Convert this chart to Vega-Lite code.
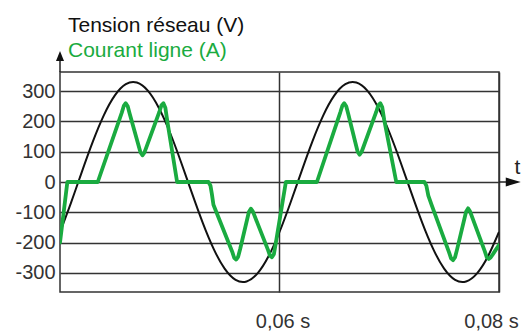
{
  "$schema": "https://vega.github.io/schema/vega-lite/v6.json",
  "width": 439,
  "height": 220,
  "autosize": {"type": "none"},
  "padding": {"left": 60, "top": 72, "right": 24, "bottom": 42},
  "background": "white",
  "config": {
    "font": "Liberation Sans",
    "view": {"stroke": "#333333", "strokeWidth": 1.5},
    "axis": {"labelOverlap": false}
  },
  "title": {
    "text": "Tension réseau (V)",
    "subtitle": "Courant ligne (A)",
    "anchor": "start",
    "frame": "group",
    "dx": 8,
    "offset": -10,
    "font": "Liberation Sans",
    "subtitleFont": "Liberation Sans",
    "fontSize": 21,
    "subtitleFontSize": 21,
    "fontWeight": "normal",
    "color": "#111111",
    "subtitleColor": "#1aab40",
    "subtitlePadding": 4
  },
  "datasets": {
    "tension": [
      {"t": 0.040, "v": -165}, {"t": 0.041, "v": -68.6}, {"t": 0.042, "v": 34.5}, {"t": 0.043, "v": 134.2},
      {"t": 0.044, "v": 220.8}, {"t": 0.045, "v": 285.8}, {"t": 0.046, "v": 322.8}, {"t": 0.047, "v": 328.2},
      {"t": 0.048, "v": 301.5}, {"t": 0.049, "v": 245.2}, {"t": 0.050, "v": 165}, {"t": 0.051, "v": 68.6},
      {"t": 0.052, "v": -34.5}, {"t": 0.053, "v": -134.2}, {"t": 0.054, "v": -220.8}, {"t": 0.055, "v": -285.8},
      {"t": 0.056, "v": -322.8}, {"t": 0.057, "v": -328.2}, {"t": 0.058, "v": -301.5}, {"t": 0.059, "v": -245.2},
      {"t": 0.060, "v": -165}, {"t": 0.061, "v": -68.6}, {"t": 0.062, "v": 34.5}, {"t": 0.063, "v": 134.2},
      {"t": 0.064, "v": 220.8}, {"t": 0.065, "v": 285.8}, {"t": 0.066, "v": 322.8}, {"t": 0.067, "v": 328.2},
      {"t": 0.068, "v": 301.5}, {"t": 0.069, "v": 245.2}, {"t": 0.070, "v": 165}, {"t": 0.071, "v": 68.6},
      {"t": 0.072, "v": -34.5}, {"t": 0.073, "v": -134.2}, {"t": 0.074, "v": -220.8}, {"t": 0.075, "v": -285.8},
      {"t": 0.076, "v": -322.8}, {"t": 0.077, "v": -328.2}, {"t": 0.078, "v": -301.5}, {"t": 0.079, "v": -245.2},
      {"t": 0.080, "v": -165}
    ],
    "courant": [
      {"t": 0.04000, "v": -200}, {"t": 0.04067, "v": 0}, {"t": 0.04344, "v": 0},
      {"t": 0.04563, "v": 229}, {"t": 0.04581, "v": 251}, {"t": 0.04599, "v": 260}, {"t": 0.04617, "v": 250}, {"t": 0.04635, "v": 225},
      {"t": 0.04733, "v": 98}, {"t": 0.04751, "v": 88}, {"t": 0.04769, "v": 97},
      {"t": 0.04906, "v": 232}, {"t": 0.04924, "v": 253}, {"t": 0.04942, "v": 260}, {"t": 0.04960, "v": 245}, {"t": 0.04978, "v": 200},
      {"t": 0.05067, "v": 0}, {"t": 0.05353, "v": 0}, {"t": 0.05371, "v": -12}, {"t": 0.05384, "v": -40}, {"t": 0.05398, "v": -75},
      {"t": 0.05569, "v": -230}, {"t": 0.05587, "v": -250}, {"t": 0.05605, "v": -256}, {"t": 0.05623, "v": -247}, {"t": 0.05641, "v": -222},
      {"t": 0.05721, "v": -99}, {"t": 0.05739, "v": -88}, {"t": 0.05757, "v": -97},
      {"t": 0.05895, "v": -224}, {"t": 0.05913, "v": -243}, {"t": 0.05931, "v": -248}, {"t": 0.05949, "v": -238}, {"t": 0.05967, "v": -200},
      {"t": 0.06058, "v": 0}, {"t": 0.06341, "v": 0},
      {"t": 0.06554, "v": 230}, {"t": 0.06572, "v": 251}, {"t": 0.06590, "v": 260}, {"t": 0.06608, "v": 250}, {"t": 0.06626, "v": 225},
      {"t": 0.06712, "v": 100}, {"t": 0.06730, "v": 90}, {"t": 0.06748, "v": 99},
      {"t": 0.06882, "v": 232}, {"t": 0.06900, "v": 253}, {"t": 0.06918, "v": 260}, {"t": 0.06936, "v": 247}, {"t": 0.06954, "v": 205},
      {"t": 0.07064, "v": 0}, {"t": 0.07320, "v": 0}, {"t": 0.07338, "v": -12}, {"t": 0.07356, "v": -45}, {"t": 0.07390, "v": -80},
      {"t": 0.07545, "v": -232}, {"t": 0.07563, "v": -252}, {"t": 0.07581, "v": -258}, {"t": 0.07599, "v": -249}, {"t": 0.07617, "v": -224},
      {"t": 0.07700, "v": -98}, {"t": 0.07718, "v": -87}, {"t": 0.07736, "v": -97},
      {"t": 0.07870, "v": -228}, {"t": 0.07888, "v": -248}, {"t": 0.07906, "v": -254}, {"t": 0.07924, "v": -249}, {"t": 0.07945, "v": -238},
      {"t": 0.07970, "v": -224}, {"t": 0.08000, "v": -208}
    ]
  },
  "layer": [
    {
      "data": {"name": "tension"},
      "mark": {"type": "line", "interpolate": "natural", "color": "#111111", "strokeWidth": 2, "clip": true},
      "encoding": {
        "x": {
          "field": "t", "type": "quantitative",
          "scale": {"domain": [0.04, 0.08], "nice": false, "zero": false},
          "axis": {
            "values": [0.06, 0.08], "tickCount": 10,
            "labelExpr": "replace(format(datum.value, '.2f'), '.', ',') + ' s'",
            "labelFontSize": 20, "labelColor": "#333333", "labelPadding": 19,
            "labelAlign": "center",
            "labelOffset": {"condition": {"test": "datum.value > 0.07", "value": -8}, "value": 3},
            "labelFlush": false, "labelOverlap": false, "labelBound": false,
            "ticks": false, "domain": false,
            "grid": true, "gridColor": "#333333", "gridWidth": 1.5, "gridOpacity": 1,
            "title": "t", "titleX": 457, "titleY": -125, "titleFontSize": 21,
            "titleFontWeight": "normal", "titleBaseline": "middle", "titleAlign": "center",
            "titleAngle": 0, "titleColor": "#222222"
          }
        },
        "y": {
          "field": "v", "type": "quantitative",
          "scale": {"domain": [-363, 363], "nice": false, "zero": false},
          "axis": {
            "values": [-300, -200, -100, 0, 100, 200, 300], "tickCount": 10,
            "labelExpr": "'' + datum.value",
            "labelFontSize": 20, "labelColor": "#333333", "labelPadding": 5,
            "labelOverlap": false, "labelBound": false, "labelFlush": false,
            "ticks": false, "domain": false,
            "grid": true, "gridColor": "#333333", "gridWidth": 1.5, "gridOpacity": 1,
            "title": null
          }
        }
      }
    },
    {
      "data": {"name": "courant"},
      "mark": {"type": "line", "color": "#1aab40", "strokeWidth": 3.8, "strokeJoin": "round", "strokeCap": "round", "clip": true},
      "encoding": {
        "x": {"field": "t", "type": "quantitative"},
        "y": {"field": "v", "type": "quantitative"}
      }
    },
    {
      "data": {"values": [{}]},
      "mark": {"type": "rule", "color": "#222222", "strokeWidth": 1.5, "clip": false},
      "encoding": {"x": {"datum": 0.04}, "y": {"datum": 363}, "y2": {"datum": 412}}
    },
    {
      "data": {"values": [{}]},
      "mark": {"type": "point", "shape": "M-0.8,1L0,-1L0.8,1Z", "size": 100, "filled": true, "color": "#111111", "opacity": 1, "clip": false},
      "encoding": {"x": {"datum": 0.04}, "y": {"datum": 416}}
    },
    {
      "data": {"values": [{}]},
      "mark": {"type": "rule", "color": "#222222", "strokeWidth": 1.5, "clip": false},
      "encoding": {"x": {"datum": 0.08}, "x2": {"datum": 0.0811}, "y": {"datum": 0}}
    },
    {
      "data": {"values": [{}]},
      "mark": {"type": "point", "shape": "M-1,-0.6L1,0L-1,0.6Z", "size": 225, "filled": true, "color": "#111111", "opacity": 1, "clip": false},
      "encoding": {"x": {"datum": 0.0813}, "y": {"datum": 0}}
    }
  ]
}
